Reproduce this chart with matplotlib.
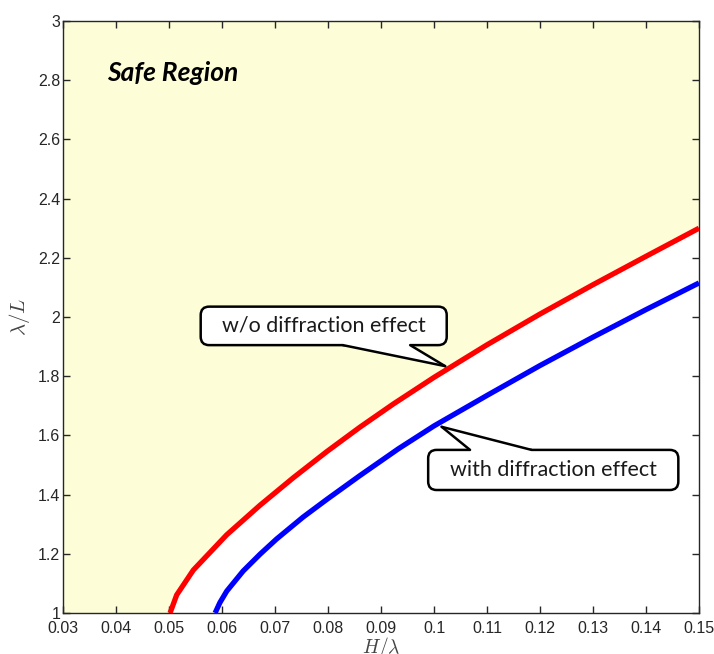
import matplotlib
matplotlib.use("Agg")
import matplotlib.pyplot as plt
from matplotlib.patches import FancyBboxPatch, Polygon

plt.rcParams["mathtext.fontset"] = "cm"

# Data
red_x = [0.0502, 0.05145, 0.05459, 0.06088, 0.06717, 0.07346, 0.07975, 0.08604, 0.09232,
         0.10, 0.11, 0.12, 0.13, 0.14, 0.15]
red_y = [1.0, 1.061, 1.145, 1.264, 1.364, 1.457, 1.545, 1.628, 1.706,
         1.796, 1.906, 2.010, 2.109, 2.205, 2.30]
blue_x = [0.0587, 0.0596, 0.0609, 0.064, 0.0672, 0.0703, 0.0753, 0.0798, 0.086, 0.0933,
          0.10, 0.11, 0.12, 0.13, 0.14, 0.15]
blue_y = [1.0, 1.035, 1.074, 1.142, 1.199, 1.25, 1.324, 1.384, 1.464, 1.555,
          1.632, 1.735, 1.836, 1.932, 2.025, 2.115]
x_ticks = [0.03, 0.04, 0.05, 0.06, 0.07, 0.08, 0.09, 0.1, 0.11, 0.12, 0.13, 0.14, 0.15]
x_ticklabels = ["0.03", "0.04", "0.05", "0.06", "0.07", "0.08", "0.09", "0.1", "0.11", "0.12", "0.13", "0.14", "0.15"]
y_ticks = [1, 1.2, 1.4, 1.6, 1.8, 2, 2.2, 2.4, 2.6, 2.8, 3]
y_ticklabels = ["1", "1.2", "1.4", "1.6", "1.8", "2", "2.2", "2.4", "2.6", "2.8", "3"]
callout_texts = ["w/o diffraction effect", "with diffraction effect"]

fig = plt.figure(figsize=(7.14, 6.54), dpi=100)
ax = fig.add_axes([63/714, 41/654, 636/714, 592/654])
ax.set_xlim(0.03, 0.15)
ax.set_ylim(1, 3)

# Safe region fill (above red curve)
fx = [0.03] + red_x
fy = [1.0] + red_y
ax.fill_between(fx, fy, 3, color="#FDFDD8", linewidth=0, zorder=0)

ax.plot(red_x, red_y, color="#FF0000", lw=3.8, solid_capstyle="butt",
        solid_joinstyle="round", zorder=3)
ax.plot(blue_x, blue_y, color="#0000FF", lw=3.8, solid_capstyle="butt",
        solid_joinstyle="round", zorder=3)

ax.set_xticks(x_ticks)
ax.set_xticklabels(x_ticklabels, fontsize=11.5, family="Liberation Sans", color="#262626")
ax.set_yticks(y_ticks)
ax.set_yticklabels(y_ticklabels, fontsize=11.5, family="Liberation Sans", color="#262626")
ax.tick_params(direction="in", length=5, width=1, top=True, right=True,
               color="#262626")
ax.tick_params(axis="x", pad=5.5)
ax.tick_params(axis="y", pad=2)
for s in ax.spines.values():
    s.set_color("#262626")
    s.set_linewidth(1)

ax.set_xlabel(r"$H/\lambda$", fontsize=14, color="#444444")
ax.xaxis.set_label_coords(0.5, -0.0365)
ax.set_ylabel(r"$\lambda/L$", fontsize=15, color="#444444", labelpad=4)

ax.text(0.03825, 2.825, "Safe Region", fontsize=19, fontweight="bold", style="italic",
        family="Lato", ha="left", va="center", color="black")


def callout(x0, x1, y0, y1, tail_base, tip, text):
    box = FancyBboxPatch((x0, y0), x1 - x0, y1 - y0,
                         boxstyle="round,pad=0,rounding_size=0.0016",
                         mutation_aspect=(2.0 / 0.12) * (636 / 592),
                         facecolor="white", edgecolor="black", lw=1.8, zorder=5)
    ax.add_patch(box)
    if tip[1] < y0:
        by, inner = y0, y0 + 0.012
    else:
        by, inner = y1, y1 - 0.012
    poly = Polygon([(tail_base[0], inner), (tail_base[0], by), tip, (tail_base[1], by),
                    (tail_base[1], inner)], closed=True,
                   facecolor="white", edgecolor="none", zorder=6)
    ax.add_patch(poly)
    ax.plot([tail_base[0], tip[0]], [by, tip[1]], color="black", lw=1.8, zorder=7,
            solid_capstyle="round")
    ax.plot([tail_base[1], tip[0]], [by, tip[1]], color="black", lw=1.8, zorder=7,
            solid_capstyle="round")
    ax.text((x0 + x1) / 2, (y0 + y1) / 2, text, fontsize=15.5, family="Lato",
            ha="center", va="center", color="#1a1a1a", zorder=8)


callout(0.05598, 0.1024, 1.905, 2.035, (0.0828, 0.0955), (0.1021, 1.834), callout_texts[0])
callout(0.0989, 0.1461, 1.4155, 1.551, (0.1068, 0.1184), (0.10145, 1.629), callout_texts[1])

fig.savefig("out.png", dpi=100)
